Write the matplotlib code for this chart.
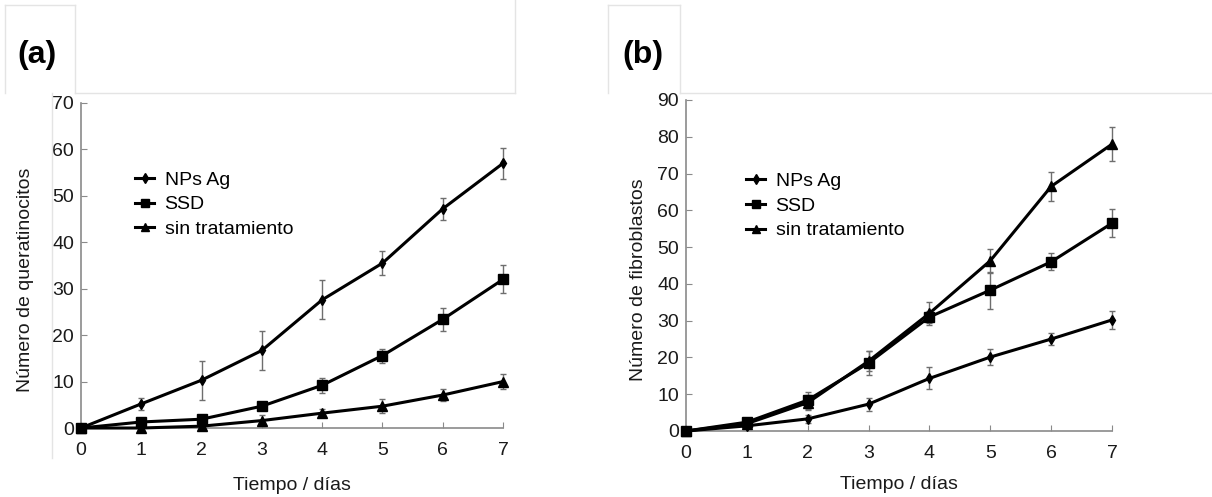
import matplotlib.pyplot as plt
from matplotlib.lines import Line2D
import numpy as np

plt.rcParams["font.family"] = ["Liberation Sans", "DejaVu Sans"]

# Días de medición
dias = [0, 1, 2, 3, 4, 5, 6, 7]
etiquetas = ["NPs Ag", "SSD", "sin tratamiento"]

# (a) queratinocitos
querat_npsag = [0, 5.2, 10.3, 16.7, 27.6, 35.5, 47.2, 57.0]
querat_npsag_err = [0, 1.3, 4.2, 4.3, 4.2, 2.6, 2.4, 3.4]
querat_ssd = [0, 1.3, 1.9, 4.7, 9.2, 15.6, 23.4, 32.0]
querat_ssd_err = [0, 0.5, 0.7, 0.8, 1.6, 1.5, 2.4, 3.0]
querat_sin = [0, 0.0, 0.4, 1.6, 3.2, 4.7, 7.1, 10.0]
querat_sin_err = [0, 0.3, 0.4, 1.1, 0.9, 1.5, 1.2, 1.6]

# (b) fibroblastos
fibro_npsag = [0, 1.4, 3.3, 7.3, 14.3, 20.1, 25.0, 30.2]
fibro_npsag_err = [0, 0.5, 1.0, 1.8, 3.0, 2.2, 1.7, 2.5]
fibro_ssd = [0, 2.4, 8.4, 18.5, 31.0, 38.3, 46.0, 56.5]
fibro_ssd_err = [0, 0.6, 2.3, 3.2, 1.5, 5.0, 2.3, 3.8]
fibro_sin = [0, 2.0, 7.7, 19.0, 32.0, 46.3, 66.5, 78.0]
fibro_sin_err = [0, 0.5, 2.0, 2.7, 3.2, 3.3, 4.0, 4.7]

marcadores = [("d", 5.5), ("s", 7.5), ("^", 7.5)]
gris = "#8a8a8a"
txt = "#1a1a1a"


def dibuja_panel(ax, series, errores, ymax, ylabel, lpad):
    """Curvas de crecimiento con barras de error"""
    for y, err, (mk, ms), lab in zip(series, errores, marcadores, etiquetas):
        ax.errorbar(dias, y, yerr=err, color="black", lw=2.2,
                    marker=mk, ms=ms, ecolor="#6e6e6e", elinewidth=1.0,
                    capsize=2.5, capthick=1.0, label=lab, clip_on=False,
                    zorder=3)
    ax.set(xlim=(0, 7), ylim=(0, ymax))
    ax.set_xticks(range(0, 8))
    ax.set_yticks(range(0, ymax + 1, 10))
    for side in ("top", "right"):
        ax.spines[side].set_visible(False)
    for side in ("left", "bottom"):
        ax.spines[side].set_color(gris)
        ax.spines[side].set_linewidth(1.2)
    ax.tick_params(direction="in", length=4, color=gris, labelsize=14,
                   labelcolor=txt)
    ax.tick_params(axis="x", pad=10)
    ax.tick_params(axis="y", pad=5)
    ax.set_xlabel("Tiempo / días", fontsize=14, labelpad=lpad, color=txt)
    ax.set_ylabel(ylabel, fontsize=14, color=txt)


fig = plt.figure(figsize=(12.12, 4.97), dpi=100)
ax_a = fig.add_axes([0.0668, 0.1388, 0.3482, 0.654])
ax_b = fig.add_axes([0.566, 0.1328, 0.3515, 0.666])

dibuja_panel(ax_a, [querat_npsag, querat_ssd, querat_sin],
             [querat_npsag_err, querat_ssd_err, querat_sin_err],
             70, "Número de queratinocitos", 13)
ax_a.yaxis.set_label_coords(-0.112, 0.455)

dibuja_panel(ax_b, [fibro_npsag, fibro_ssd, fibro_sin],
             [fibro_npsag_err, fibro_ssd_err, fibro_sin_err],
             90, "Número de fibroblastos", 10)
ax_b.yaxis.set_label_coords(-0.092, 0.456)

# Leyendas sin marco, sin barras de error
for ax, pos in ((ax_a, (0.106, 0.82)), (ax_b, (0.119, 0.81))):
    handles, labels = ax.get_legend_handles_labels()
    handles = [h[0] for h in handles]
    ax.legend(handles, labels, loc="upper left", bbox_to_anchor=pos,
              frameon=False, fontsize=14, handlelength=0.95,
              handletextpad=0.55, labelspacing=0.36, borderpad=0,
              markerscale=0.85)

# Cajas de cabecera
lc = "#e4e4e4"
W, H = 1212, 497
segs = [
    ((5, 75), (5, 5)), ((5, 5), (5, 93)), ((75, 75), (5, 93)),
    ((75, 515), (93, 93)), ((515, 515), (0, 93)), ((52, 52), (93, 458)),
    ((608, 680), (5, 5)), ((608, 608), (5, 93)), ((680, 680), (5, 93)),
    ((680, 1212), (93, 93)),
]
for xs, ys in segs:
    fig.add_artist(Line2D([x / W for x in xs], [1 - y / H for y in ys],
                          color=lc, lw=1.0))

fig.text(37 / W, 1 - 55 / H, "(a)", fontsize=23, fontweight="bold",
         ha="center", va="center")
fig.text(643 / W, 1 - 55 / H, "(b)", fontsize=23, fontweight="bold",
         ha="center", va="center")

plt.savefig("out.png", dpi=100)
